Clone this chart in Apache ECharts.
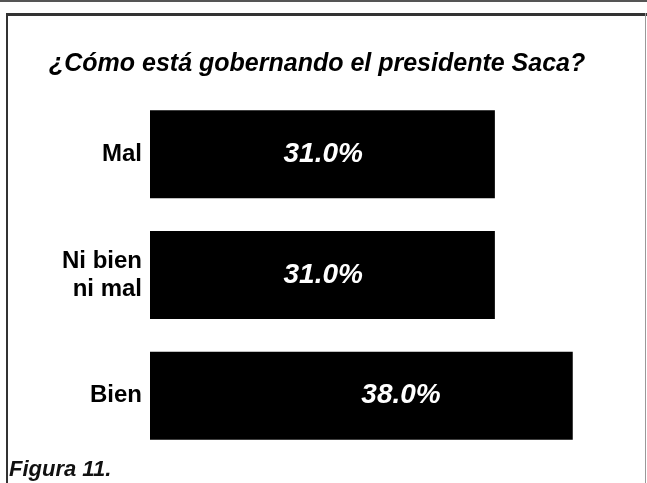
<!DOCTYPE html>
<html>
<head>
<meta charset="utf-8">
<script src="https://cdn.jsdelivr.net/npm/echarts@6/dist/echarts.min.js"></script>
<style>
html, body { margin: 0; padding: 0; background: #fff; }
#main { width: 647px; height: 483px; }
</style>
</head>
<body>
<div id="main"></div>
<script>
var titulo = '¿Cómo está gobernando el presidente Saca?';
var categorias = ['Mal', 'Ni bien\nni mal', 'Bien'];
var valores = [31.0, 31.0, 38.0];
var pie = 'Figura 11.';

var fuente = '"Liberation Sans", Arial, sans-serif';
var myChart = echarts.init(document.getElementById('main'));

var option = {
    backgroundColor: '#fff',
    animation: false,
    title: {
        text: titulo,
        left: 44,
        top: 47,
        textStyle: {
            fontFamily: fuente,
            fontSize: 25,
            fontStyle: 'italic',
            fontWeight: 'bold',
            color: '#000'
        }
    },
    grid: {
        left: 150,
        right: 52,
        top: 94,
        bottom: 27,
        containLabel: false
    },
    xAxis: {
        type: 'value',
        min: 0,
        max: 40,
        show: false,
        splitLine: { show: false }
    },
    yAxis: {
        type: 'category',
        inverse: true,
        data: categorias,
        axisLine: { show: false },
        axisTick: { show: false },
        axisLabel: {
            margin: 8,
            fontFamily: fuente,
            fontSize: 24,
            fontWeight: 'bold',
            color: '#000',
            lineHeight: 28,
            align: 'right'
        }
    },
    series: [{
        type: 'bar',
        data: valores,
        barWidth: 88,
        itemStyle: { color: '#000' },
        label: {
            show: true,
            position: 'insideRight',
            distance: 132,
            formatter: function (p) {
                return p.value.toFixed(1) + '%';
            },
            fontFamily: fuente,
            fontSize: 28,
            fontStyle: 'italic',
            fontWeight: 'bold',
            color: '#fff'
        }
    }],
    graphic: [
        // marco
        { type: 'rect', shape: { x: 0, y: 0, width: 647, height: 2 }, style: { fill: '#555' }, silent: true },
        { type: 'rect', shape: { x: 6, y: 13, width: 641, height: 3 }, style: { fill: '#333' }, silent: true },
        { type: 'rect', shape: { x: 6, y: 13, width: 2, height: 470 }, style: { fill: '#333' }, silent: true },
        { type: 'rect', shape: { x: 645, y: 13, width: 1, height: 470 }, style: { fill: '#999' }, silent: true },
        {
            type: 'text',
            x: 9,
            y: 470,
            style: {
                text: pie,
                font: 'italic bold 22px ' + fuente,
                fill: '#111',
                textAlign: 'left',
                textVerticalAlign: 'middle'
            },
            silent: true
        }
    ]
};

myChart.setOption(option, true);
</script>
</body>
</html>
